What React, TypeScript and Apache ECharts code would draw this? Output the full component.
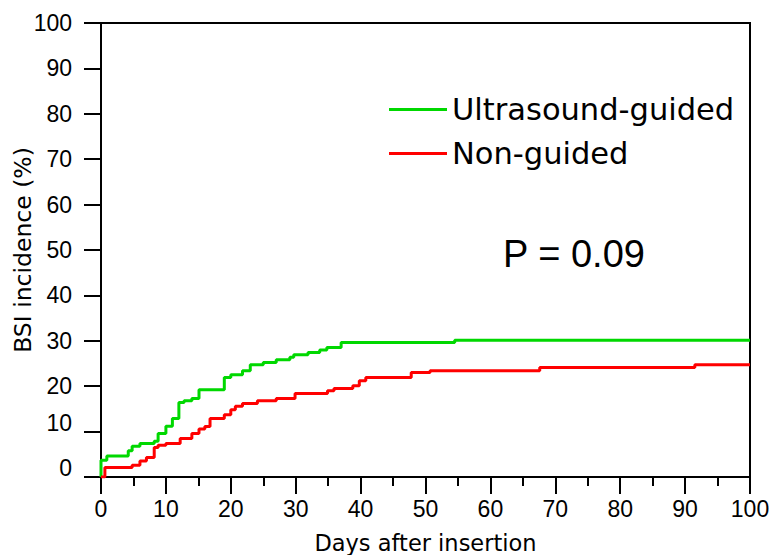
import React, { useEffect, useRef } from "react";
import * as echarts from "echarts";

// Kaplan-Meier style cumulative incidence (day at which the value starts, value in %)
const usDays = [0, 0, 0.9, 4.2, 4.8, 6.0, 8.2, 8.8, 10, 11, 12, 12.8, 14, 15.1, 19, 20, 21.8, 23, 25, 27, 29.1, 29.7, 31.9, 33.7, 34.8, 37, 54.5, 100];
const usRates = [0, 3.7, 4.6, 5.8, 6.8, 7.4, 7.9, 9.6, 11.2, 12.9, 16.4, 16.8, 17.3, 19.2, 21.9, 22.5, 23.4, 24.7, 25.2, 25.8, 26.4, 26.9, 27.4, 28.0, 28.5, 29.6, 30.1, 30.1];

const ngDays = [0, 0.6, 4.8, 6.0, 7.0, 8.2, 8.8, 10, 12.2, 14, 15.1, 16, 16.8, 19, 20, 20.7, 21.8, 24.1, 27, 29.9, 34.9, 35.9, 38.8, 39.8, 40.8, 47.8, 50.7, 67.6, 91.5, 100];
const ngRates = [0, 2.1, 2.6, 3.5, 4.3, 6.5, 7.0, 7.4, 8.5, 9.6, 10.6, 11.1, 12.9, 13.7, 14.8, 15.6, 16.2, 16.8, 17.3, 18.4, 19.0, 19.5, 20.1, 21.2, 21.9, 23.0, 23.4, 24.1, 24.7, 24.7];

const seriesNames = ["Ultrasound-guided", "Non-guided"];
const xTitle = "Days after insertion";
const yTitle = "BSI incidence (%)";
const pText = "P = 0.09";

const ARIAL = "'Liberation Sans', Arial, sans-serif";
const WIDE = "'DejaVu Sans', sans-serif";

export default function App() {
  const ref = useRef<HTMLDivElement>(null);
  useEffect(() => {
    if (!ref.current) return;
    const chart = echarts.init(ref.current, null, { renderer: "svg" });
    const pairs = (d: number[], v: number[]) => d.map((x, i) => [x, v[i]]);
    chart.setOption({
      animation: false,
      backgroundColor: "#fff",
      grid: {
        left: 101,
        top: 23,
        right: 19,
        bottom: 78,
        containLabel: false,
        outerBoundsMode: "none",
        show: true,
        borderColor: "#000",
        borderWidth: 2,
        backgroundColor: "transparent",
      },
      legend: {
        orient: "vertical",
        left: 384,
        top: 89,
        itemWidth: 58,
        itemHeight: 3,
        itemGap: 13,
        itemTextGap: 10,
        icon: "rect",
        data: seriesNames,
        textStyle: { fontFamily: WIDE, fontSize: 30.5, color: "#000" },
      },
      xAxis: {
        type: "value",
        min: 0,
        max: 100,
        interval: 10,
        splitLine: { show: false },
        axisLine: { lineStyle: { color: "#000", width: 2 } },
        axisTick: { length: 17, lineStyle: { color: "#000", width: 2 } },
        minorTick: { show: true, splitNumber: 2, length: 9, lineStyle: { color: "#000", width: 2 } },
        axisLabel: { margin: 20, fontFamily: ARIAL, fontSize: 23, color: "#000" },
        name: xTitle,
        nameLocation: "middle",
        nameGap: 54,
        nameMoveOverlap: false,
        nameTextStyle: { fontFamily: WIDE, fontSize: 22.5, color: "#000" },
      },
      yAxis: {
        type: "value",
        min: 0,
        max: 100,
        interval: 10,
        splitLine: { show: false },
        axisLine: { lineStyle: { color: "#000", width: 2 } },
        axisTick: { length: 17, lineStyle: { color: "#000", width: 2 } },
        axisLabel: {
          margin: 29,
          fontFamily: ARIAL,
          fontSize: 23,
          color: "#000",
          formatter: (v: number) => (v <= 10 ? `{lo|${v}}` : `${v}`),
          rich: { lo: { fontFamily: ARIAL, fontSize: 23, color: "#000", padding: [0, 0, 18, 0] } },
        },
        name: yTitle,
        nameLocation: "middle",
        nameGap: 66,
        nameMoveOverlap: false,
        nameTextStyle: { fontFamily: WIDE, fontSize: 23.5, color: "#000" },
      },
      graphic: [
        {
          type: "text",
          x: 503,
          y: 254,
          style: { text: pText, fontFamily: ARIAL, fontSize: 38, fill: "#000", verticalAlign: "middle" },
        },
      ],
      series: [
        {
          name: seriesNames[0],
          type: "line",
          step: "end",
          showSymbol: false,
          data: pairs(usDays, usRates),
          lineStyle: { color: "#00d800", width: 3 },
          itemStyle: { color: "#00d800" },
        },
        {
          name: seriesNames[1],
          type: "line",
          step: "end",
          showSymbol: false,
          data: pairs(ngDays, ngRates),
          lineStyle: { color: "#ff0000", width: 3 },
          itemStyle: { color: "#ff0000" },
        },
      ],
    });
    return () => chart.dispose();
  }, []);
  return <div ref={ref} style={{ position: "fixed", left: 0, top: 0, width: 769, height: 555 }} />;
}
